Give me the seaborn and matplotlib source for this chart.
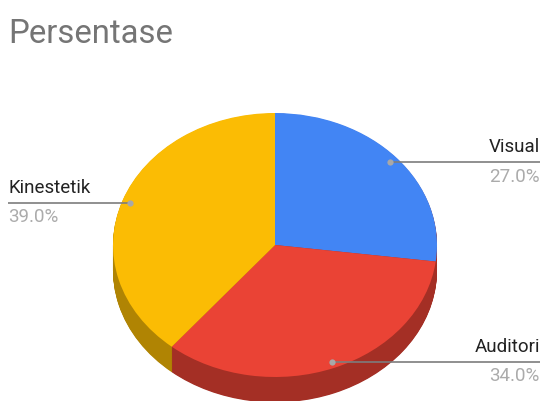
import numpy as np
import matplotlib
matplotlib.use("Agg")
import matplotlib.pyplot as plt
import seaborn as sns

categories = ["Visual", "Auditori", "Kinestetik"]
percentages = [27.0, 34.0, 39.0]
top_colors = ["#4285F4", "#EA4335", "#FBBC04"]
title_text = "Persentase"

sns.set_theme(style="white")
plt.rcParams["font.family"] = ["Roboto", "DejaVu Sans"]

W, H = 544, 401
CX, CY, RX, RY = 275, 245, 162, 132
DEPTH = 25.5 / RY
ANCHOR = 0.95

fig = plt.figure(figsize=(W / 100, H / 100), dpi=100, facecolor="white")
ax = fig.add_axes([0, 0, 1, 1])

palette = sns.color_palette(top_colors)
side_colors = [tuple(c * 0.7 for c in col) for col in palette]
# The blue slice faces away from the viewer, so its rim takes the neighbouring shade
side_colors[0] = side_colors[1]
pie_args = dict(startangle=90, counterclock=False, radius=1, frame=True,
                wedgeprops=dict(linewidth=0, edgecolor="none"))

# Extruded rim: stacked copies of the pie, then the lit top face
for off in np.linspace(DEPTH, 0, 40, endpoint=False):
    ax.pie(percentages, colors=side_colors, center=(0, -off), **pie_args)
wedges, _ = ax.pie(percentages, colors=palette, center=(0, 0), **pie_args)

ax.set_aspect("auto")
ax.set_xlim(-CX / RX, (W - CX) / RX)
ax.set_ylim((CY - H) / RY, CY / RY)
ax.axis("off")

# Leader lines run from a dot inside each slice to the chart margin
x_left = (8 - CX) / RX
x_right = (540 - CX) / RX
for wedge, name, pct in zip(wedges, categories, percentages):
    mid = np.deg2rad((wedge.theta1 + wedge.theta2) / 2)
    px, py = ANCHOR * np.cos(mid), ANCHOR * np.sin(mid)
    right = px > 0
    end = x_right if right else x_left
    ha = "right" if right else "left"
    ax.plot([px, end], [py, py], color="#7d7d7d", lw=1.2, solid_capstyle="butt")
    ax.plot(px, py, "o", ms=4.5, color="#a8a8a8", mec="none")
    ax.annotate(name, (end, py), xytext=(0, 10.5), textcoords="offset points",
                ha=ha, va="center", fontsize=13.5, color="#222222")
    ax.annotate(f"{pct:.1f}%", (end, py), xytext=(0, -10.5), textcoords="offset points",
                ha=ha, va="center", fontsize=13.5, color="#ababab")

fig.text(8 / W, 1 - 34 / H, title_text, ha="left", va="center", fontsize=23.7, color="#757575")

fig.savefig("out.png", dpi=100, facecolor="white")
